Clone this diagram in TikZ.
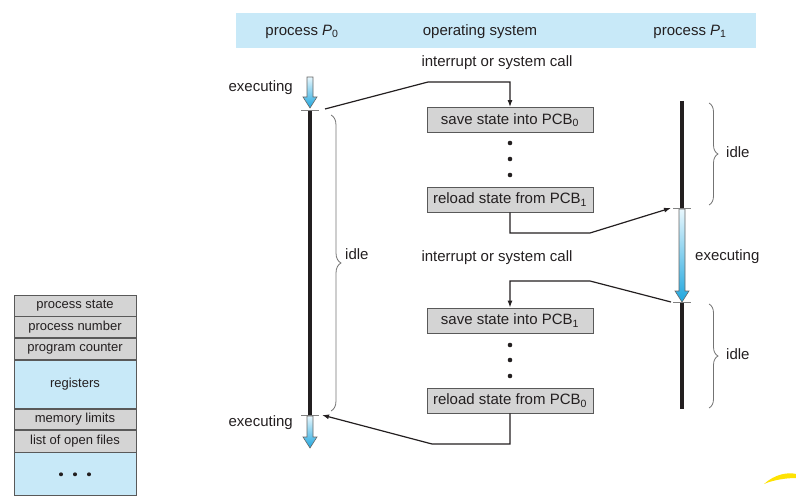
\documentclass[tikz,border=0pt]{standalone}
\usepackage{fontspec}
\setmainfont{Liberation Sans}
\usepackage{tikz}
\usetikzlibrary{decorations.pathreplacing,positioning,arrows.meta}

\definecolor{hdrblue}{HTML}{C8E9F8}
\definecolor{boxgray}{HTML}{D4D4D4}
\definecolor{arrowtop}{HTML}{E8F7FD}
\definecolor{arrowbot}{HTML}{1EA6DE}
\definecolor{inkgray}{HTML}{231F20}

% blue "executing" arrow: name, x, top, tip
\newcommand{\execarrow}[4]{%
  \path[top color=arrowtop, bottom color=arrowbot, draw=gray!80!black, line width=0.6pt]
    (#2-3,#3) -- (#2+3,#3) -- (#2+3,#4-11) -- (#2+7,#4-11) -- (#2,#4)
    -- (#2-7,#4-11) -- (#2-3,#4-11) -- cycle;
  \coordinate (#1) at (#2,#4);
}

\tikzset{
  lbl/.style={text=inkgray, font=\fontsize{15}{18}\selectfont, inner sep=0pt},
  osbox/.style={lbl, draw=gray!70!black, fill=boxgray, line width=0.8pt,
    minimum width=166pt, minimum height=25pt},
  pcbgray/.style={draw=gray!70!black, fill=boxgray, line width=0.8pt, text=inkgray,
    font=\fontsize{13}{15}\selectfont, minimum width=122pt, inner sep=0pt},
  pcbblue/.style={pcbgray, fill=hdrblue},
  conn/.style={draw=inkgray, line width=1.2pt, ->},
  procline/.style={draw=inkgray, line width=3.8pt},
  tick/.style={draw=gray, line width=0.8pt},
  idlebrace/.style={draw=gray!90!black, line width=0.8pt, decorate,
    decoration={brace, amplitude=#1}},
}

\begin{document}
\begin{tikzpicture}[x=1pt, y=-1pt, >={Latex[length=7pt,width=5pt]}]
  \useasboundingbox (0,0) rectangle (796,503);

  % header
  \fill[hdrblue] (236,13) rectangle (756,48);
  \node[lbl] (hdrP0) at (302,32) {process \textit{P}\textsubscript{0}};
  \node[lbl] (hdrOS) at (480,32) {operating system};
  \node[lbl] (hdrP1) at (690,32) {process \textit{P}\textsubscript{1}};

  % operating system column
  \node[lbl] (callA) at (497,63) {interrupt or system call};
  \node[osbox] (save0) at (510,120) {save state into PCB\textsubscript{0}};
  \node[osbox] (reload1) at (510,199.5) {reload state from PCB\textsubscript{1}};
  \node[lbl] (callB) at (497,258) {interrupt or system call};
  \node[osbox] (save1) at (510,320.5) {save state into PCB\textsubscript{1}};
  \node[osbox] (reload0) at (510,400.5) {reload state from PCB\textsubscript{0}};
  \foreach \y in {143,159,175,345,360,376}
    \fill[inkgray] (510,\y) circle[radius=2.3pt];

  % process P0
  \execarrow{p0exA}{310}{77}{108}
  \draw[procline] (310,110) -- (310,415);
  \draw[tick] (301,110) -- (319,110);
  \draw[tick] (301,415) -- (319,415);
  \execarrow{p0exB}{310}{416}{448}
  \node[lbl, anchor=east] (exec0a) at (293,88) {executing};
  \node[lbl, anchor=east] (exec0b) at (293,423) {executing};
  \draw[idlebrace=10pt] (331,115) -- (331,411);
  \node[lbl, anchor=west] (idle0) at (345,254) {idle};

  % process P1
  \draw[procline] (682,101) -- (682,208);
  \execarrow{p1ex}{682}{209}{302}
  \draw[procline] (682,303) -- (682,409);
  \draw[tick] (673,208) -- (691,208);
  \draw[tick] (673,302) -- (691,302);
  \node[lbl, anchor=west] (exec1) at (695,257) {executing};
  \draw[idlebrace=9pt] (709,103) -- (709,205);
  \node[lbl, anchor=west] (idle1a) at (726,152) {idle};
  \draw[idlebrace=9pt] (709,304) -- (709,408);
  \node[lbl, anchor=west] (idle1b) at (726,354) {idle};

  % connectors
  \coordinate (p0out) at (325,109);
  \coordinate (p1in) at (671,208);
  \coordinate (p1out) at (671,302);
  \coordinate (p0in) at (322,415);
  \draw[conn] (p0out) -- (428,82) -| (save0.north);
  \draw[conn] (reload1.south) |- (590,233) -- (p1in);
  \draw[conn] (p1out) -- (590,281) -| (save1.north);
  \draw[conn] (reload0.south) |- (432,444) -- (p0in);

  % PCB
  \node[pcbgray, minimum height=21pt] (pstate) at (75,305.5) {process state};
  \node[pcbgray, minimum height=21pt, below=0pt of pstate] (pnum) {process number};
  \node[pcbgray, minimum height=21pt, below=0pt of pnum] (pcount) {program counter};
  \node[pcbblue, minimum height=48pt, below=0pt of pcount] (regs) {registers};
  \node[pcbgray, minimum height=20pt, below=0pt of regs] (memlim) {memory limits};
  \node[pcbgray, minimum height=22pt, below=0pt of memlim] (files) {list of open files};
  \node[pcbblue, minimum height=43pt, below=0pt of files] (more) {};
  \foreach \dx in {-14,0,14}
    \fill[inkgray] ([xshift=\dx pt]more.center) circle[radius=2pt];

  % logo swoosh
  \fill[yellow!85!orange] (764,484) .. controls (775,474) and (788,472) .. (796,474)
    -- (796,478) .. controls (786,478) and (773,480) .. (764,484) -- cycle;
\end{tikzpicture}
\end{document}
